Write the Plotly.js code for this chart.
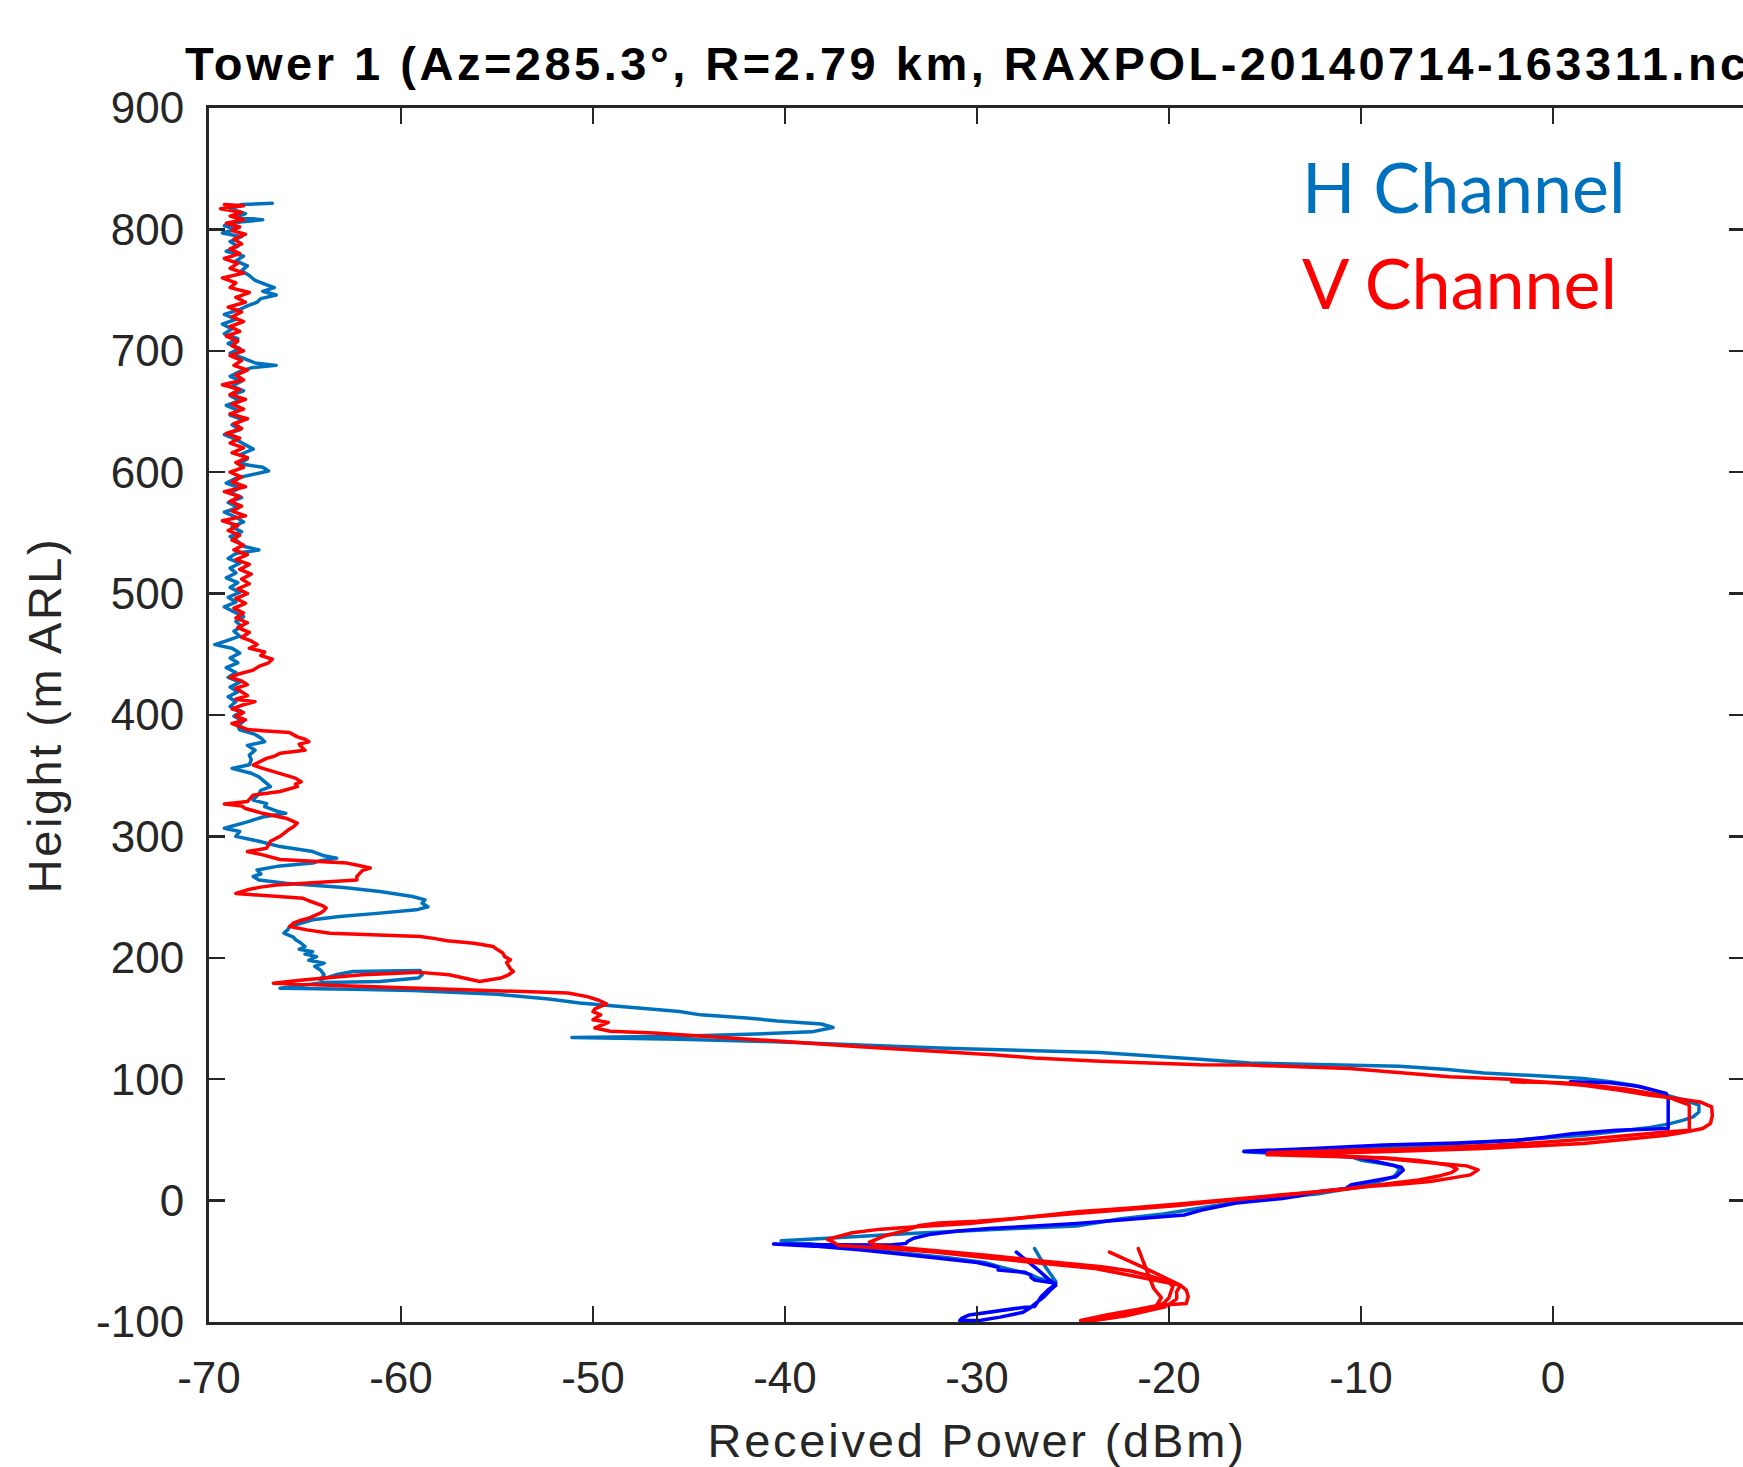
<!DOCTYPE html>
<html>
<head>
<meta charset="utf-8">
<script src="https://cdn.plot.ly/plotly-3.0.1.min.js"></script>
<style>
  html, body { margin: 0; padding: 0; overflow: hidden; background: #fff; }
  #plot { width: 1760px; height: 1467px; }
  .gtitle { letter-spacing: 3.5px; }
  .xtitle { letter-spacing: 2.8px; }
  .ytitle { letter-spacing: 2.5px; }
  .scatterlayer path.js-line { stroke-linejoin: round; stroke-linecap: round; }
</style>
</head>
<body>
<div id="plot"></div>
<script>
// ---------------- DATA ([height m ARL, received power dBm]) ----------------
const titleText = 'Tower 1 (Az=285.3°, R=2.79 km, RAXPOL-20140714-163311.nc)';
const xTickValues = [-70, -60, -50, -40, -30, -20, -10, 0, 10];
const xTickLabels = ['-70', '-60', '-50', '-40', '-30', '-20', '-10', '0', '10'];
const yTickValues = [-100, 0, 100, 200, 300, 400, 500, 600, 700, 800, 900];
const yTickLabels = ['-100', '0', '100', '200', '300', '400', '500', '600', '700', '800', '900'];
const legendLabels = ['H Channel', 'V Channel'];

// H channel, main sweep
const hChannel = [
[821.5,-66.7],[820.5,-68.3],[817,-68.9],[813,-68.1],[810,-68.6],[808,-67.2],[806,-68.4],[803,-69.2],[800,-68.6],[797,-69.3],[794,-68.3],[790,-68.9],[786,-68.5],[782,-69.1],[778,-68.2],[774,-68.6],[770,-68.0],[766,-68.3],[762,-67.9],[758,-67.6],[755,-67.1],[752,-66.6],[749,-67.2],[746,-66.5],[743,-67.3],[740,-67.5],[737,-68.0],[734,-68.4],[730,-69.2],[726,-68.6],[722,-69.3],[718,-68.8],[714,-69.2],[710,-68.5],[706,-69.0],[702,-68.4],[698,-68.9],[694,-68.2],[690,-67.6],[688,-66.5],[686,-67.8],[683,-68.4],[679,-68.9],[675,-68.3],[671,-68.8],[667,-68.2],[663,-68.9],[659,-68.4],[655,-69.1],[651,-68.5],[647,-68.9],[643,-68.2],[639,-68.8],[635,-68.4],[631,-69.2],[627,-68.6],[623,-68.1],[619,-67.7],[615,-68.3],[611,-68.0],[607,-68.4],[604,-67.2],[601,-66.9],[598,-67.8],[595,-68.6],[591,-69.1],[587,-68.4],[583,-68.9],[579,-68.3],[575,-69.0],[571,-68.5],[567,-69.2],[563,-68.6],[559,-68.2],[555,-68.8],[551,-68.3],[547,-68.9],[543,-68.5],[539,-68.2],[536,-67.4],[533,-68.6],[529,-69.0],[525,-68.4],[521,-68.9],[517,-68.6],[513,-69.1],[509,-68.5],[505,-68.9],[501,-68.4],[497,-69.0],[493,-68.6],[489,-69.2],[485,-68.7],[481,-68.2],[477,-68.6],[473,-68.3],[469,-68.7],[465,-68.4],[461,-69.1],[458,-69.7],[455,-68.8],[451,-68.4],[447,-68.9],[443,-68.5],[439,-69.1],[435,-68.6],[431,-69.0],[427,-68.4],[423,-68.9],[419,-68.5],[415,-69.0],[411,-68.6],[407,-68.9],[403,-68.3],[399,-68.7],[395,-68.2],[391,-68.5],
[387.7,-68.4],[384,-67.6],[381,-67.3],[378,-67.1],[375,-68.0],[371,-67.6],[367,-67.9],[363,-67.8],[359,-67.9],[356,-68.8],[352,-67.8],[349,-67.4],[345,-67.1],[341,-66.8],[338,-67.3],[335,-67.4],[330,-67.7],[327,-67.0],[324.6,-67.1],[321,-66.5],[319,-66.0],[316,-67.2],[312,-68.0],[309,-68.7],[306.7,-69.2],[304,-68.4],[300,-68.6],[296,-67.4],[291.6,-66.3],[287.5,-64.6],[284,-64.0],[282,-63.35],[280,-64.2],[278,-64.6],[275.7,-66.3],[272.4,-67.5],[269,-67.3],[267,-67.7],[264,-67.4],[261.5,-66.0],[258,-63.0],[254.6,-61.1],[250.5,-59.4],[247.7,-58.75],[245,-58.9],[242,-58.6],[239.5,-59.2],[236.8,-61.1],[234,-63.2],[231.3,-64.6],[228.5,-65.3],[225.8,-65.8],[223,-65.9],[220.3,-66.1],[217,-65.6],[215,-65.5],[212,-65.2],[209.3,-65.0],[207,-65.3],[205,-64.6],[203,-65.0],[201,-64.4],[198,-64.8],[195.6,-64.0],[193,-64.5],[190,-64.2],[186,-64.0],[182,-64.2],
[186,-63.4],[188.7,-62.5],[189.6,-59.0],[186,-58.9],[183.3,-59.1],[180.5,-61.1],[179.7,-64.0],[177.5,-65.2],[175,-66.3],[174,-62.5],[173,-59.4],[170,-55.0],[166,-52.3],[162.7,-50.7],[159,-48.0],[155.8,-45.5],[153,-44.4],[150.5,-42.0],[148,-40.4],[145.5,-38.1],[142.6,-37.5],[139,-38.6],[137.6,-40.9],[135.4,-45.5],[134.3,-51.1],[133,-45.5],[131,-40.9],[128,-36.0],[125.5,-31.6],[122,-23.6],[119,-20.5],[116.5,-18.4],[113.4,-15.8],[112,-11.5],[110.7,-8.0],[108,-5.5],[105.2,-3.6],[103,-1.0],[100.6,1.58],[98,3.0],[95,4.2],[91,5.2],[86.8,5.9],[82,7.0],[78.6,7.6],[73,7.6],[69,7.3],[66.3,6.8],[63,6.0],[60.3,5.05],[57,3.4],[53.9,1.6],[49.8,-1.9],[47,-4.5],[44.9,-7.1],[42,-11.5],[40.2,-16.1],[36,-10.5],[33.3,-10.0],[29.2,-8.3],[26.5,-8.0],[23,-8.1],[19.6,-8.3],[16,-9.0],[12.8,-9.7],[9,-11.0],[5.4,-12.3],[0.5,-15.8],[-6,-18.5],[-11,-20.3],[-15,-22.5],[-19,-24.0],[-21,-24.8],[-23,-28.0],[-24.5,-30.4],[-27,-33.5],[-31,-37.8],[-33,-40.2],[-36,-38.5],[-39.5,-36.0],[-43,-34.0],[-47,-31.5],[-51,-29.6],[-55,-28.7],[-58,-28.0],[-61,-27.2],[-64,-26.8],[-66.7,-25.9],[-53,-26.5],[-39.5,-27.0]
];

// H channel, second sweep (low levels)
const hChannel2 = [
[97.8,0.9],[97,3.0],[94,4.5],[90,5.5],[88.3,5.9],[84,6.0],[72,6.0],[59.4,6.0],[58,3.3],[55,1.0],[52,-0.5],[49.8,-1.9],[47.5,-5.0],[45.7,-8.8],[43,-12.5],[40.6,-16.1],[38.5,-12.5],[36,-10.4],[33.3,-9.5],[30.6,-8.65],[27.5,-7.9],[25,-7.8],[22,-8.0],[19.6,-8.2],[16.8,-9.2],[13,-10.5],[10,-10.8],[7.2,-12.3],[4,-13.2],[1.8,-14.1],[-2,-16.5],[-7.8,-18.3],[-11.9,-19.2],[-15,-21.5],[-18.8,-24.8],[-21,-27.0],[-22.9,-29.4],[-25,-31.0],[-28,-32.5],[-31,-33.3],[-33.5,-33.6],[-35.3,-33.7],[-36.5,-34.5],[-36.4,-38.0],[-35.8,-40.6],[-37.5,-38.5],[-40.7,-36.0],[-44,-34.0],[-48,-31.5],[-51,-30.0],[-53,-29.4],[-55,-28.9],[-57.2,-28.9],[-59,-27.5],[-61.3,-27.2],[-63,-27.2],[-65.4,-27.0],[-66.5,-26.4],[-68.1,-25.9],[-70,-26.0],[-73.6,-26.3],[-79,-26.65],[-83,-26.8],[-87.3,-27.0],[-88,-27.6],[-91,-29.0],[-94.2,-30.4],[-97,-30.8],[-98.8,-30.9],[-98.5,-29.8],[-96,-28.8],[-92,-27.6],[-88,-27.2],[-84,-26.9],[-79,-26.5],[-74,-26.2],[-69.8,-25.9],[-56,-26.9],[-42.4,-27.95]
];

// V channel, main sweep
const vChannel = [
[820.5,-69.2],[819.5,-68.2],[817,-69.4],[814,-68.3],[811,-68.9],[808,-68.2],[805,-69.1],[802,-68.4],[799,-68.8],[796,-68.1],[792,-68.7],[788,-68.3],[784,-68.9],[780,-68.4],[776,-69.2],[772,-68.5],[768,-68.9],[764,-68.2],[760,-69.3],[756,-68.6],[752,-68.9],[748,-67.9],[744,-68.6],[740,-68.1],[736,-69.0],[732,-68.3],[728,-68.8],[724,-68.2],[720,-68.9],[716,-68.4],[712,-69.1],[708,-68.5],[704,-68.8],[700,-68.2],[696,-68.9],[692,-68.3],[688,-68.7],[684,-68.0],[680,-68.6],[676,-68.2],[672,-69.3],[668,-68.4],[664,-68.9],[660,-68.1],[656,-68.8],[652,-68.2],[648,-68.9],[644,-68.0],[640,-68.7],[636,-68.3],[632,-69.1],[628,-68.4],[624,-68.9],[620,-68.2],[616,-68.8],[612,-68.0],[608,-68.6],[604,-68.2],[600,-68.9],[596,-68.3],[592,-68.8],[588,-68.1],[584,-69.2],[580,-68.4],[576,-68.9],[572,-68.3],[568,-68.8],[564,-68.1],[560,-69.3],[556,-68.5],[552,-69.0],[548,-68.4],[544,-68.8],[540,-68.2],[536,-68.7],[532,-68.0],[528,-68.6],[524,-67.9],[520,-68.4],[516,-67.8],[512,-68.3],[508,-67.9],[504,-68.5],[500,-68.0],[496,-68.6],[492,-68.1],[488,-68.7],[484,-68.2],[480,-68.6],[476,-68.0],[472,-68.5],[468,-67.9],[464,-68.3],[461,-67.8],[458,-67.5],[455,-67.9],[452,-67.1],[449,-67.3],[446,-66.7],[443,-66.9],[440,-67.4],[437,-67.7],[434,-68.4],[431,-68.9],[428,-68.3],[425,-68.0],[422,-68.6],[419,-68.3],[416,-68.0],[413,-68.6],[411,-67.6],[408,-68.3],[405,-68.8],[402,-68.2],[399,-68.6],[396,-68.1],[393,-68.8],[390,-68.3],[388,-68.0],
[387,-67.2],[385.5,-65.8],[382,-65.4],[380,-65.0],[378,-64.8],[376,-65.3],[374,-65.2],[371,-65.0],[368.4,-66.3],[366,-66.6],[364.3,-67.0],[361,-67.4],[358.8,-67.7],[356,-67.2],[352,-66.3],[348,-65.5],[345,-65.2],[343,-65.5],[341,-65.4],[339,-65.9],[337,-66.3],[334,-67.7],[331,-67.9],[328.7,-68.0],[326.7,-69.2],[325,-68.3],[323,-68.1],[321,-67.7],[319,-67.2],[315,-66.0],[311,-65.4],[308,-65.6],[305,-65.9],[300,-66.3],[296,-66.8],[293,-66.9],[290.3,-67.0],[287.5,-68.0],[284.8,-67.2],[281,-66.3],[279.3,-64.6],[278,-62.8],[276,-62.2],[274,-61.6],[272,-62.0],[270,-62.1],[267,-62.3],[264,-62.3],[261.5,-64.9],[260,-66.5],[258,-67.4],[256,-68.0],[253,-68.6],[250.5,-66.6],[249,-65.1],[247,-64.8],[245,-64.4],[243,-64.1],[241,-63.9],[239,-64.0],[236.8,-64.2],[234.5,-64.5],[232.6,-64.8],[230.5,-65.3],[228.5,-65.6],[225.8,-65.8],[223,-64.9],[220.3,-63.7],[219,-61.1],[217.6,-59.0],[216,-58.3],[214,-57.6],[212,-56.2],[209.3,-55.2],[207,-55.0],[204,-54.7],[201,-54.6],[198.4,-54.3],[196,-54.5],[193,-54.4],[191,-54.3],[188.7,-54.15],[186,-54.4],[183.3,-54.8],[180.5,-55.9],[183,-56.6],[186,-57.5],[188,-59.0],[186,-62.0],[182,-65.0],[179.1,-66.65],[177,-63.0],[175,-59.4],[173,-54.8],[171,-51.3],[168,-50.3],[165,-49.7],[162,-49.3],[158,-49.9],[155.6,-50.0],[153,-49.6],[149,-50.0],[146.8,-49.2],[142.2,-49.9],[139.5,-49.1],[138,-46.8],[134.7,-43.3],[131,-40.0],[127,-36.3],[125,-34.0],[122.9,-31.6],[120,-29.0],[117.5,-27.0],[114.8,-23.6],[112,-18.4],[111.6,-15.8],[108.8,-10.6],[105,-7.5],[102,-5.4],[99.9,-2.2],[97.5,-0.5],[95,1.58],[91,3.4],[86.8,5.05],[84,6.5],[81.3,7.66],[77.2,8.26],[70,8.3],[63.5,8.2],[59.4,7.8],[56.5,6.9],[53.9,5.9],[50.5,3.8],[47,1.58],[45,-1.0],[42.9,-3.6],[40.5,-8.5],[38.8,-13.2],[37.8,-14.9],[36,-10.5],[34.9,-8.8],[32.2,-7.1],[30.5,-5.8],[28.6,-4.5],[25.3,-3.9],[21.2,-4.3],[18.5,-5.3],[15.7,-6.4],[13.5,-8.0],[11.6,-9.7],[8,-11.8],[4.8,-14.05],[1,-16.5],[-2.3,-19.2],[-6,-22.0],[-9.2,-24.8],[-14,-27.5],[-18.8,-30.4],[-21.5,-33.2],[-23.5,-35.0],[-26.5,-36.5],[-29.5,-37.3],[-31.9,-37.8],[-34,-37.5],[-36.9,-37.2],[-39,-35.0],[-42.4,-32.2],[-47,-29.5],[-51.9,-26.6],[-54,-25.2],[-56,-23.85],[-60,-22.5],[-64.2,-21.1],[-67,-20.2],[-69.7,-19.4],[-73.8,-19.1],[-79,-19.0],[-84.8,-19.1],[-86.2,-20.5],[-90,-21.8],[-94,-23.2],[-98.8,-24.6],[-99,-24.0],[-95,-22.3],[-91,-21.2],[-87.5,-20.2],[-81,-19.6],[-75,-19.6],[-69.7,-19.4],[-56,-21.2],[-42.4,-23.1]
];

// V channel, second sweep (low levels)
const vChannel2 = [
[97.8,-2.15],[97,0.5],[95,2.0],[92,3.8],[88,5.2],[84,6.2],[80,6.9],[78.6,7.1],[70,7.1],[58,7.1],[56.5,5.9],[54,4.2],[51,2.0],[48,-0.5],[45.5,-3.2],[43,-7.0],[41,-11.0],[39.5,-14.85],[37,-11.5],[35,-8.65],[33,-7.0],[31,-6.0],[29.2,-5.4],[26,-5.0],[23,-5.3],[20,-6.0],[17,-7.0],[14,-8.5],[10,-10.5],[6,-13.0],[3.5,-14.5],[0,-17.0],[-4,-19.5],[-7.5,-22.5],[-11,-25.0],[-14,-27.5],[-17,-30.0],[-18.5,-32.0],[-20.5,-33.0],[-24.5,-33.7],[-29,-34.8],[-34.2,-35.6],[-36.9,-35.2],[-38.5,-34.0],[-41,-32.0],[-45,-29.5],[-50,-26.5],[-54.5,-23.5],[-58,-22.0],[-62,-21.0],[-67,-20.0],[-71,-19.8],[-75,-19.9],[-80,-20.0],[-85,-20.3],[-90,-21.5],[-95,-23.0],[-98.5,-24.3],[-97,-23.2],[-92,-21.6],[-87.5,-20.7],[-80,-20.4],[-72.2,-20.8],[-55,-21.2],[-39.5,-21.6]
];

// ---------------- STYLE ----------------
const hColor = '#0072BD';
const hColor2 = '#0000FF';
const vColor = '#FF0000';
const axisColor = '#262626';
const baseFont = 'Liberation Sans, Arial, Helvetica, sans-serif';

function lineTrace(pairs, color) {
  return {
    type: 'scatter', mode: 'lines',
    x: pairs.map(p => p[1]), y: pairs.map(p => p[0]),
    line: { color: color, width: 3.5 },
    hoverinfo: 'skip', showlegend: false
  };
}

const data = [
  lineTrace(hChannel, hColor),
  lineTrace(hChannel2, hColor2),
  lineTrace(vChannel, vColor),
  lineTrace(vChannel2, vColor)
];

const axisCommon = {
  ticks: 'inside', ticklen: 16, tickwidth: 2.5, tickcolor: axisColor,
  showline: true, linecolor: axisColor, linewidth: 3, mirror: 'ticks',
  showgrid: false, zeroline: false, automargin: false, fixedrange: true,
  tickfont: { family: baseFont, size: 44, color: axisColor }
};

const layout = {
  width: 1760, height: 1467,
  margin: { l: 209, r: 15, t: 108, b: 145, pad: 0 },
  paper_bgcolor: '#ffffff', plot_bgcolor: '#ffffff',
  title: {
    text: titleText,
    font: { family: baseFont, size: 47, weight: 'bold', color: '#000000' },
    x: 0.5, xref: 'paper', xanchor: 'center',
    y: 1 - 64 / 1467, yref: 'container', yanchor: 'middle'
  },
  xaxis: Object.assign({}, axisCommon, {
    range: [-70, 10], tickmode: 'array', tickvals: xTickValues, ticktext: xTickLabels,
    ticklabelstandoff: 15,
    title: { text: 'Received Power (dBm)', font: { family: baseFont, size: 47, color: axisColor }, standoff: 36 }
  }),
  yaxis: Object.assign({}, axisCommon, {
    range: [-100, 900], tickmode: 'array', tickvals: yTickValues, ticktext: yTickLabels,
    ticklabelstandoff: 13,
    title: { text: 'Height (m ARL)', font: { family: baseFont, size: 47, color: axisColor }, standoff: 20 }
  }),
  annotations: [
    { text: legendLabels[0], xref: 'paper', yref: 'paper', x: 0.710, y: 0.936, xanchor: 'left', yanchor: 'middle',
      showarrow: false, font: { family: 'Lato, sans-serif', size: 70, color: hColor } },
    { text: legendLabels[1], xref: 'paper', yref: 'paper', x: 0.710, y: 0.857, xanchor: 'left', yanchor: 'middle',
      showarrow: false, font: { family: 'Lato, sans-serif', size: 70, color: vColor } }
  ]
};

Plotly.newPlot('plot', data, layout, { displayModeBar: false, staticPlot: true });
</script>
</body>
</html>
